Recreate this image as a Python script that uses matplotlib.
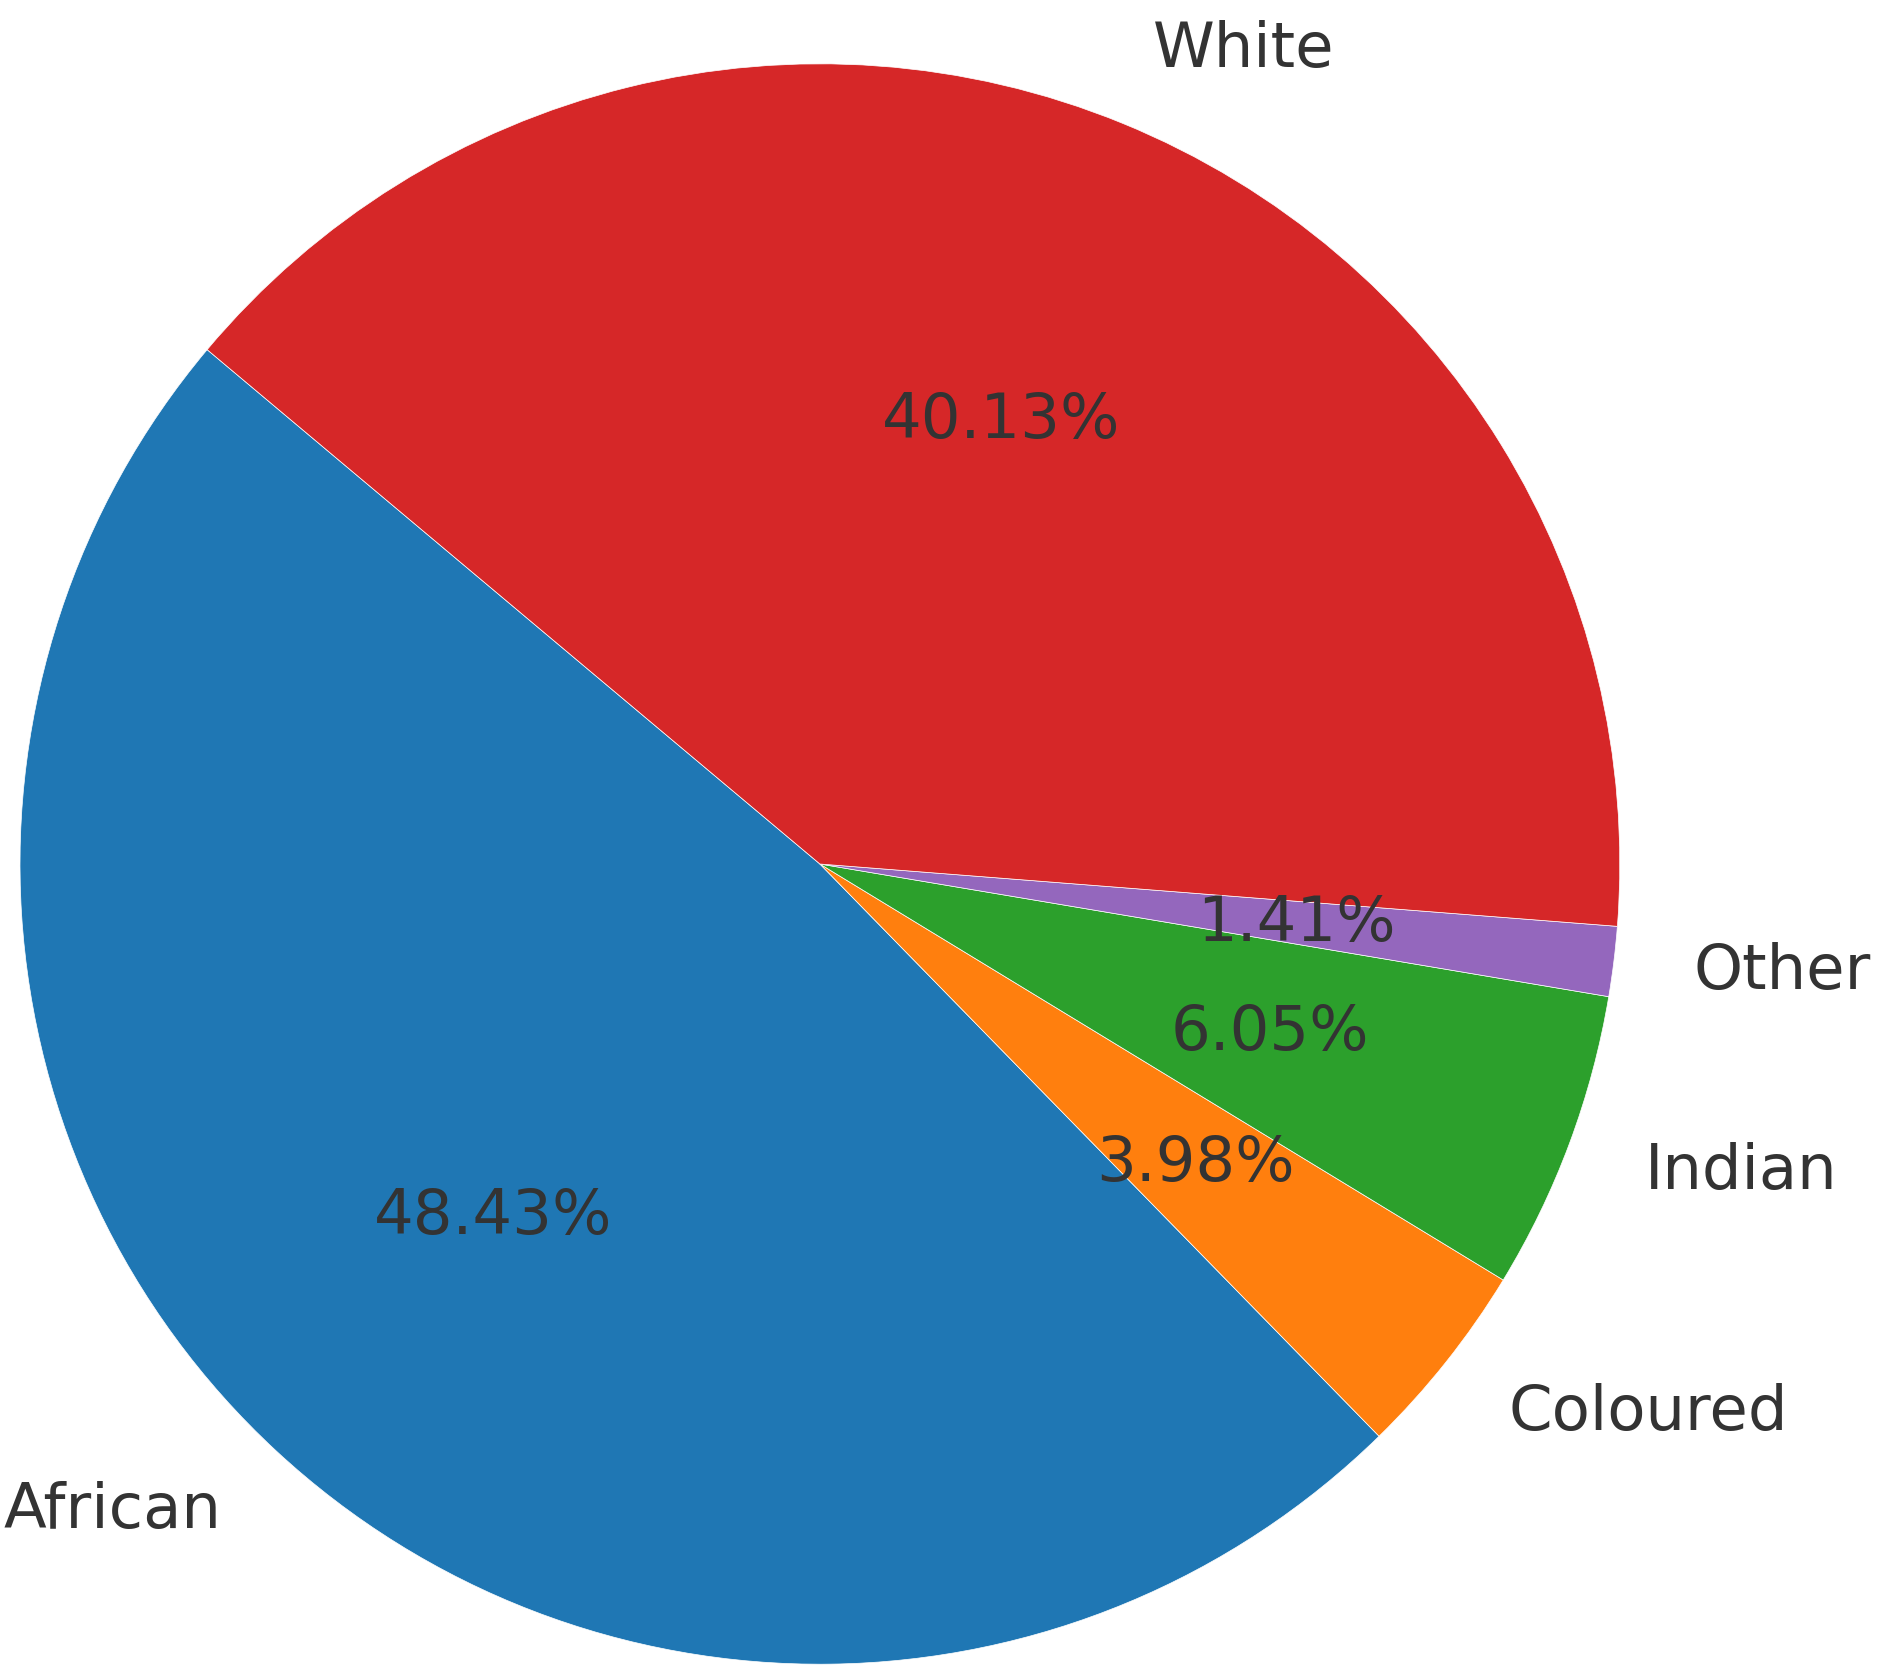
import matplotlib
matplotlib.use("Agg")
import matplotlib.pyplot as plt

groups = ["African", "Coloured", "Indian", "Other", "White"]
shares = [48.43, 3.98, 6.05, 1.41, 40.13]
colors = ["#1f77b4", "#ff7f0e", "#2ca02c", "#9467bd", "#d62728"]

TEXT = "#333333"

fig = plt.figure(figsize=(18.83, 16.74), dpi=100, facecolor="white")
ax = fig.add_axes([0, 0, 1, 1])

wedges, labels, pcts = ax.pie(
    shares, labels=groups, colors=colors, autopct="%.2f%%",
    startangle=140, counterclock=True,
    wedgeprops=dict(edgecolor="white", linewidth=0.5),
    textprops=dict(color=TEXT, fontsize=45),
)

# put the pie where it sits in the original (center ~ (820, 865) px, r ~ 800 px)
ax.set_xlim(-1.025, 1.329)
ax.set_ylim(-1.011, 1.081)
ax.set_aspect("auto")
ax.axis("off")

fig.savefig("out.png", dpi=100, facecolor="white")
